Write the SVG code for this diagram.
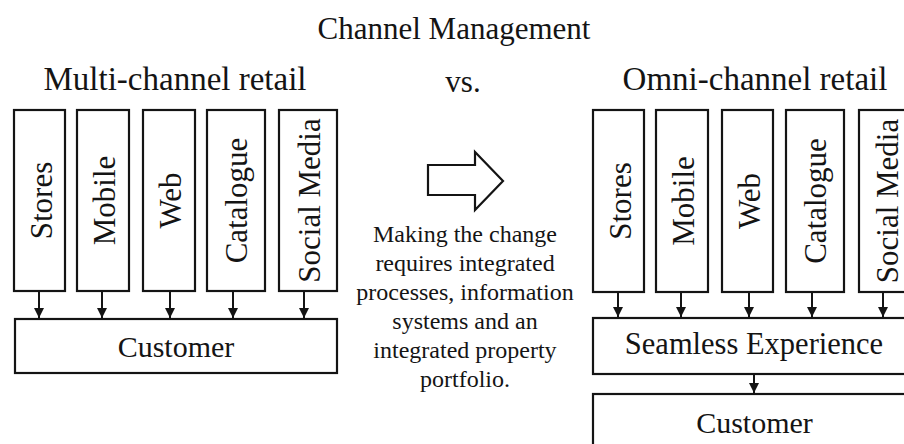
<svg xmlns="http://www.w3.org/2000/svg" width="904" height="444" viewBox="0 0 904 444">
<defs>
<style>
text{font-family:"Liberation Serif","Times New Roman",serif;fill:#141414}
.box{fill:#fff;stroke:#141414;stroke-width:2.2}
.lbl{font-size:31px;text-anchor:middle}
.hd{font-size:33px;text-anchor:middle}
.mid{font-size:24px;text-anchor:middle}
.conn line{stroke:#141414;stroke-width:2}
</style>
<marker id="ah" markerUnits="userSpaceOnUse" markerWidth="10" markerHeight="10" viewBox="0 0 10 10" refX="10" refY="5" orient="auto">
<path d="M0,0 L10,5 L0,10 Z" fill="#141414"/>
</marker>
</defs>
<rect width="904" height="444" fill="#fff"/>
<text x="454" y="39" style="font-size:31px;text-anchor:middle">Channel Management</text>
<text class="hd" x="175" y="90">Multi-channel retail</text>
<text x="463" y="92" style="font-size:31px;text-anchor:middle">vs.</text>
<text class="hd" x="755" y="90">Omni-channel retail</text>

<g id="l-stores"><rect class="box" x="14" y="110" width="51" height="181"/><text class="lbl" transform="translate(52,200.5) rotate(-90)">Stores</text></g>
<g id="l-mobile"><rect class="box" x="77" y="110" width="52" height="181"/><text class="lbl" transform="translate(115,200.5) rotate(-90)">Mobile</text></g>
<g id="l-web"><rect class="box" x="143" y="110" width="52" height="181"/><text class="lbl" transform="translate(181,200.5) rotate(-90)">Web</text></g>
<g id="l-catalogue"><rect class="box" x="207" y="110" width="58" height="181"/><text class="lbl" transform="translate(247,200.5) rotate(-90)">Catalogue</text></g>
<g id="l-social"><rect class="box" x="279" y="110" width="58" height="181"/><text class="lbl" transform="translate(320,200.5) rotate(-90)">Social Media</text></g>
<g id="l-customer"><rect class="box" x="15" y="319" width="322" height="54"/><text x="176" y="357" style="font-size:30px;text-anchor:middle">Customer</text></g>

<g id="arrow-change"><path d="M428,165 L475,165 L475,152 L503,181 L475,210 L475,195 L428,195 Z" fill="#fff" stroke="#141414" stroke-width="2.2" stroke-linejoin="miter"/></g>
<g id="note">
<text class="mid" x="465" y="242">Making the change</text>
<text class="mid" x="465" y="271">requires integrated</text>
<text class="mid" x="465" y="300">processes, information</text>
<text class="mid" x="465" y="329">systems and an</text>
<text class="mid" x="465" y="358">integrated property</text>
<text class="mid" x="465" y="387">portfolio.</text>
</g>

<g id="r-stores"><rect class="box" x="593" y="110" width="51" height="182"/><text class="lbl" transform="translate(631,201) rotate(-90)">Stores</text></g>
<g id="r-mobile"><rect class="box" x="656" y="110" width="52" height="182"/><text class="lbl" transform="translate(694,201) rotate(-90)">Mobile</text></g>
<g id="r-web"><rect class="box" x="722" y="110" width="51" height="182"/><text class="lbl" transform="translate(760,201) rotate(-90)">Web</text></g>
<g id="r-catalogue"><rect class="box" x="786" y="110" width="58" height="182"/><text class="lbl" transform="translate(826,201) rotate(-90)">Catalogue</text></g>
<g id="r-social"><rect class="box" x="859" y="110" width="60" height="182"/><text class="lbl" transform="translate(898,201) rotate(-90)">Social Media</text></g>
<g id="r-seamless"><rect class="box" x="593" y="318" width="330" height="56"/><text x="754" y="354" style="font-size:30.5px;text-anchor:middle">Seamless Experience</text></g>
<g id="r-customer"><rect class="box" x="593" y="394" width="330" height="70"/><text x="754.5" y="433" style="font-size:30px;text-anchor:middle">Customer</text></g>

<g id="connectors" class="conn">
<line x1="39" y1="291" x2="39" y2="318" marker-end="url(#ah)"/>
<line x1="102" y1="291" x2="102" y2="318" marker-end="url(#ah)"/>
<line x1="170" y1="291" x2="170" y2="318" marker-end="url(#ah)"/>
<line x1="233" y1="291" x2="233" y2="318" marker-end="url(#ah)"/>
<line x1="304" y1="291" x2="304" y2="318" marker-end="url(#ah)"/>
<line x1="618" y1="292" x2="618" y2="317" marker-end="url(#ah)"/>
<line x1="681" y1="292" x2="681" y2="317" marker-end="url(#ah)"/>
<line x1="749" y1="292" x2="749" y2="317" marker-end="url(#ah)"/>
<line x1="812" y1="292" x2="812" y2="317" marker-end="url(#ah)"/>
<line x1="883" y1="292" x2="883" y2="317" marker-end="url(#ah)"/>
<line x1="754" y1="374" x2="754" y2="393" marker-end="url(#ah)"/>
</g>
</svg>
